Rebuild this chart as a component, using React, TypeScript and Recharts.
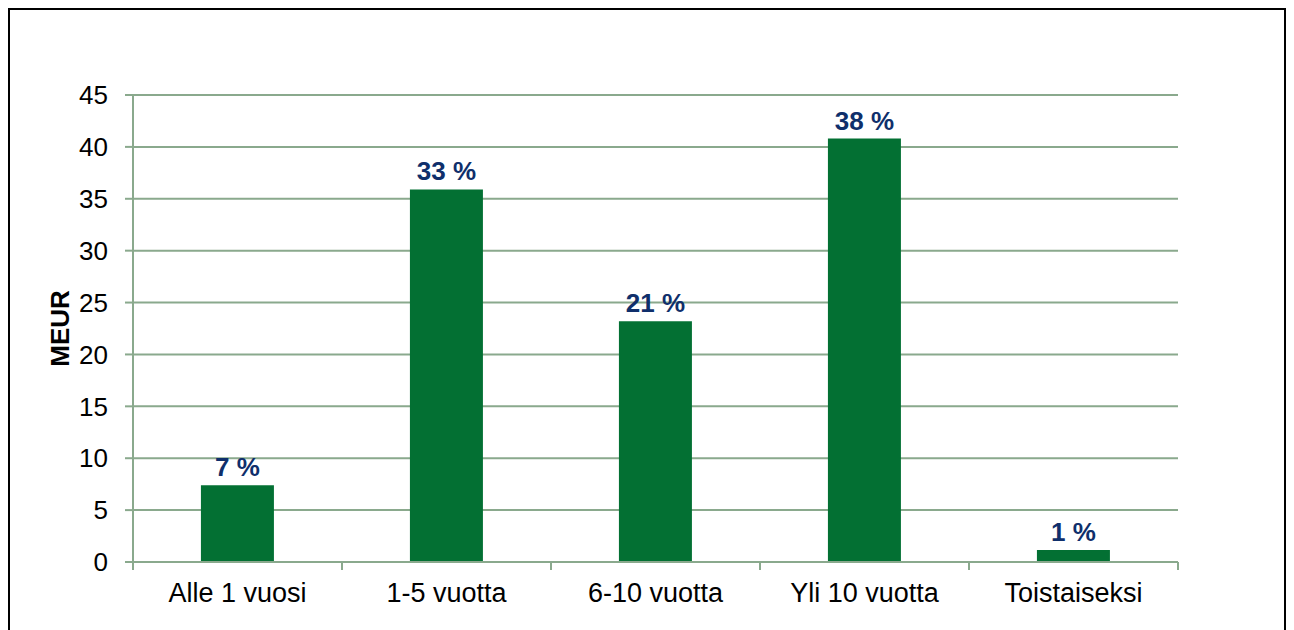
import { Bar, BarChart, CartesianGrid, LabelList, XAxis, YAxis } from 'recharts'

const categories = ['Alle 1 vuosi', '1-5 vuotta', '6-10 vuotta', 'Yli 10 vuotta', 'Toistaiseksi']
const amounts = [7.4, 35.9, 23.2, 40.8, 1.15]
const shares = ['7 %', '33 %', '21 %', '38 %', '1 %']
const yTicks = [0, 5, 10, 15, 20, 25, 30, 35, 40, 45]

const chartData = categories.map((name, i) => ({
  name,
  amount: amounts[i],
  share: shares[i],
}))

const gridColor = '#8aa98d'
const barColor = '#037033'
const labelColor = '#0f2f6b'
const fontFamily = '"Liberation Sans", Arial, sans-serif'

function CategoryTick(props: any) {
  const { x, y, payload, index, visibleTicksCount } = props
  const half = payload?.offset ?? 0
  const axisY = y - 21
  const isLast = index === visibleTicksCount - 1
  return (
    <g>
      <line x1={x - half} y1={axisY} x2={x - half} y2={axisY + 8} stroke={gridColor} strokeWidth={2} />
      {isLast && (
        <line x1={x + half} y1={axisY} x2={x + half} y2={axisY + 8} stroke={gridColor} strokeWidth={2} />
      )}
      <text x={x} y={y} dy="0.71em" textAnchor="middle" fill="#000" fontSize={27} fontFamily={fontFamily}>
        {payload.value}
      </text>
    </g>
  )
}

function YTitle(props: any) {
  const vb = props.viewBox ?? { x: 0, y: 0, width: 0, height: 0 }
  const cx = vb.x + 50
  const cy = vb.y + vb.height / 2
  return (
    <text
      x={cx}
      y={cy}
      transform={`rotate(-90 ${cx} ${cy})`}
      textAnchor="middle"
      dominantBaseline="central"
      fontSize={26}
      fontWeight="bold"
      fontFamily={fontFamily}
      fill="#000"
    >
      MEUR
    </text>
  )
}

export default function App() {
  return (
    <div style={{ width: 1274, height: 640, border: '2px solid #000', background: '#fff' }}>
      <BarChart
        width={1274}
        height={630}
        data={chartData}
        margin={{ top: 85, right: 106, bottom: 38, left: 0 }}
        barCategoryGap="32.5%"
      >
        <CartesianGrid vertical={false} stroke={gridColor} strokeWidth={2} />
        <XAxis
          dataKey="name"
          height={40}
          axisLine={{ stroke: gridColor, strokeWidth: 2 }}
          tickLine={false}
          tickSize={8}
          tickMargin={13}
          interval={0}
          tick={<CategoryTick />}
        />
        <YAxis
          width={123}
          domain={[0, 45]}
          ticks={yTicks}
          interval={0}
          axisLine={{ stroke: gridColor, strokeWidth: 2 }}
          tickLine={{ stroke: gridColor, strokeWidth: 2 }}
          tickSize={8}
          tickMargin={17}
          tick={{ fill: '#000', fontSize: 26, fontFamily }}
          label={<YTitle />}
        />
        <Bar dataKey="amount" fill={barColor} isAnimationActive={false}>
          <LabelList
            dataKey="share"
            position="top"
            offset={9}
            fill={labelColor}
            fontSize={26}
            fontWeight="bold"
            fontFamily={fontFamily}
          />
        </Bar>
      </BarChart>
    </div>
  )
}
